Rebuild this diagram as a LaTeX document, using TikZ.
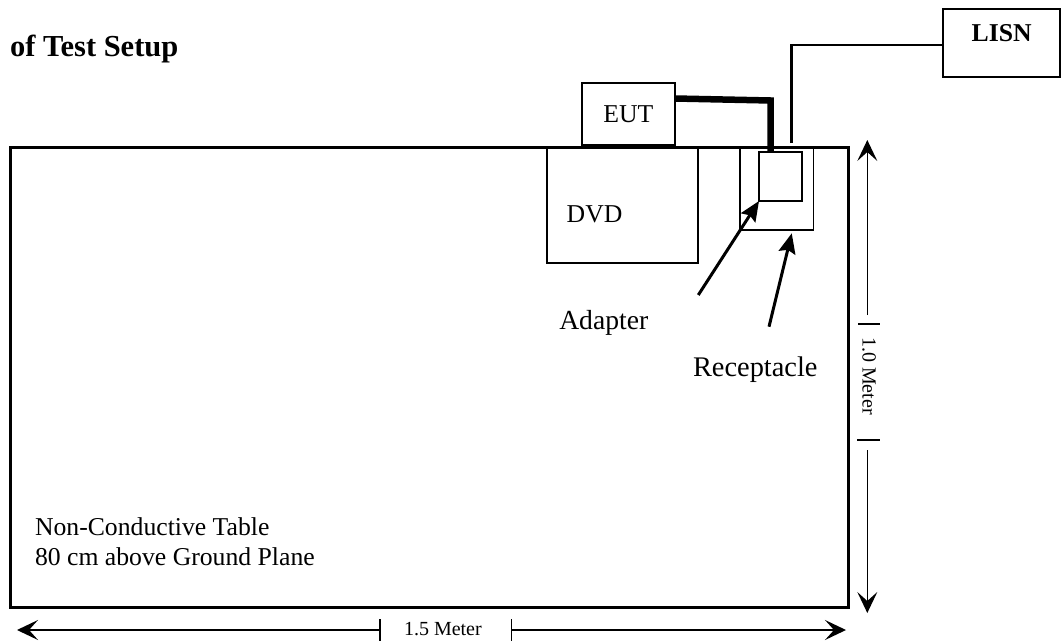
\documentclass[tikz,border=0pt]{standalone}
\usepackage{fontspec}
\setmainfont{Liberation Serif}
\usetikzlibrary{arrows.meta,calc}
\begin{document}
\begin{tikzpicture}[x=1pt,y=-1pt,
  every node/.style={inner sep=0pt, outer sep=0pt},
  box/.style={draw, line width=2pt},
  thinbox/.style={draw, line width=1.5pt},
  lbl/.style={font=\fontsize{25.7}{30}\selectfont, anchor=base west},
  dimlbl/.style={font=\fontsize{20}{24}\selectfont},
  pointer/.style={line width=3pt, -{Stealth[length=20pt,width=17pt,inset=3pt]}},
  dimline/.style={line width=1.5pt},
  dimtip/.style={-{Stealth[length=21pt,width=20pt,inset=9pt]}},
  cable/.style={line width=6.5pt, line join=miter},
  cord/.style={line width=2.5pt, line join=miter}
]
\useasboundingbox (0,0) rectangle (1063,640);

% title
\node[font=\bfseries\fontsize{30.5}{34}\selectfont, anchor=base west] (title) at (10,56.7) {of Test Setup};

% table
\node[draw, line width=3pt, minimum width=837.5pt, minimum height=460pt] (table) at (429.25,377.5) {};
\node[lbl] (tl1) at (35,535) {Non-Conductive Table};
\node[lbl] (tl2) at (35,565) {80 cm above Ground Plane};

% EUT and DVD
\node[box, minimum width=92.7pt, minimum height=62.6pt] (eut) at (628.6,114) {};
\node[lbl] (eutl) at (603.3,122.3) {EUT};
\node[box, minimum width=151.6pt, minimum height=115.2pt] (dvd) at (622.5,205.1) {};
\node[lbl] (dvdl) at (566.7,222.7) {DVD};

% receptacle and adapter
\node[thinbox, minimum width=73.5pt, minimum height=82pt] (rec) at (776.75,189) {};
\node[box, minimum width=43.3pt, minimum height=49pt] (adp) at (780.65,176.5) {};

% LISN
\node[box, minimum width=116.7pt, minimum height=68pt] (lisn) at (1001.65,43.3) {};
\node[font=\bfseries\fontsize{25.7}{30}\selectfont, anchor=base west] (lisnl) at (971.7,41.7) {LISN};

% cables
\draw[cable] ([yshift=15.5pt]eut.east) -- ++(95.7,2) -- ($(adp.north west)+(11.7,0)$);
\coordinate (plug) at (791.7,143);
\draw[cord] (plug) |- ([yshift=-1.5pt]lisn.west);

% pointers
\coordinate (adtail) at (698.3,295);
\draw[pointer] (adtail) -- (adp.south west);
\node[font=\fontsize{27.6}{30}\selectfont, anchor=base west] (adl) at (559.3,329) {Adapter};
\coordinate (rctail) at (769,326.7);
\draw[pointer] (rctail) -- ($(rec.south)+(15,3.3)$);
\node[font=\fontsize{28.4}{30}\selectfont, anchor=base west] (rcl) at (693,376) {Receptacle};

% vertical dimension
\coordinate (vtop) at (867.3,140);
\coordinate (vbot) at (867.3,613);
\coordinate (v1e) at (867.3,315);
\coordinate (v2s) at (867.3,450);
\draw[dimline,dimtip] (v1e) -- (vtop);
\draw[dimline,dimtip] (v2s) -- (vbot);
\coordinate (vb1a) at (858,324); \coordinate (vb1b) at (880,324);
\coordinate (vb2a) at (857,440); \coordinate (vb2b) at (880,440);
\draw[dimline] (vb1a) -- (vb1b);
\draw[dimline] (vb2a) -- (vb2b);
\node[dimlbl, rotate=-90] (vlbl) at (869,376) {1.0 Meter};

% horizontal dimension
\coordinate (hl) at (17,630);
\coordinate (hr) at (846,630);
\coordinate (hb1) at (380,630);
\coordinate (hb2) at (511.7,630);
\draw[dimline,dimtip] (hb1) -- (hl);
\draw[dimline,dimtip] (hb2) -- (hr);
\coordinate (hb1a) at (380,619); \coordinate (hb1b) at (380,641);
\coordinate (hb2a) at (511.7,619); \coordinate (hb2b) at (511.7,641);
\draw[dimline] (hb1a) -- (hb1b);
\draw[dimline] (hb2a) -- (hb2b);
\node[dimlbl, anchor=base west] (hlbl) at (404,635) {1.5 Meter};
\end{tikzpicture}
\end{document}
